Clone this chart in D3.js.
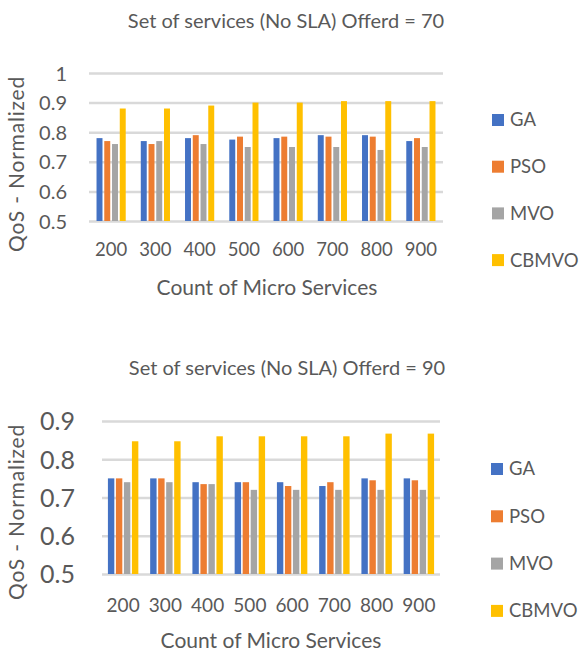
<!DOCTYPE html>
<html>
<head>
<meta charset="utf-8">
<script src="https://cdn.jsdelivr.net/npm/d3@7"></script>
<style>
  html, body { margin: 0; padding: 0; background: #fff; }
  svg { display: block; font-family: Lato, "Open Sans", sans-serif; }
</style>
</head>
<body>
<svg id="chart" width="582" height="653"></svg>
<script>
// ---------- DATA ----------
const categories = ["200", "300", "400", "500", "600", "700", "800", "900"];
const seriesNames = ["GA", "PSO", "MVO", "CBMVO"];
const seriesColors = ["#4472C4", "#ED7D31", "#A5A5A5", "#FFC000"];

// Chart 1: Offerd = 70
const title70 = "Set of services (No SLA) Offerd = 70";
const ga70    = [0.78, 0.77, 0.78, 0.775, 0.78, 0.79, 0.79, 0.77];
const pso70   = [0.77, 0.76, 0.79, 0.785, 0.785, 0.785, 0.785, 0.78];
const mvo70   = [0.76, 0.77, 0.76, 0.75, 0.75, 0.75, 0.74, 0.75];
const cbmvo70 = [0.88, 0.88, 0.89, 0.90, 0.90, 0.905, 0.905, 0.905];
const yTicks70 = [0.5, 0.6, 0.7, 0.8, 0.9, 1];

// Chart 2: Offerd = 90
const title90 = "Set of services (No SLA) Offerd = 90";
const ga90    = [0.75, 0.75, 0.74, 0.74, 0.74, 0.73, 0.75, 0.75];
const pso90   = [0.75, 0.75, 0.735, 0.74, 0.73, 0.74, 0.745, 0.745];
const mvo90   = [0.74, 0.74, 0.735, 0.72, 0.72, 0.72, 0.72, 0.72];
const cbmvo90 = [0.847, 0.847, 0.86, 0.86, 0.86, 0.86, 0.867, 0.867];
const yTicks90 = [0.5, 0.6, 0.7, 0.8, 0.9];

const xTitle = "Count of Micro Services";
const yTitle = "QoS - Normalized";

// ---------- DRAW ----------
const svg = d3.select("#chart");
const textColor = "#595959";

function drawChart(cfg) {
  const g = svg.append("g");
  const series = cfg.values;

  const x0 = d3.scaleBand().domain(categories)
    .range([cfg.left, cfg.right]).paddingInner(cfg.groupPad).paddingOuter(cfg.groupPad / 2);
  const x1 = d3.scaleBand().domain(seriesNames)
    .range([0, x0.bandwidth()]).paddingInner(cfg.barPad);
  const y = d3.scaleLinear().domain([d3.min(cfg.yTicks), d3.max(cfg.yTicks)])
    .range([cfg.bottom, cfg.top]);

  // gridlines via axis
  const grid = g.append("g")
    .attr("transform", `translate(${cfg.left},0)`)
    .call(d3.axisRight(y).tickValues(cfg.yTicks).tickSize(cfg.right - cfg.left).tickFormat(""));
  grid.select(".domain").remove();
  grid.selectAll("line").attr("stroke", "#D9D9D9").attr("stroke-width", 2.5);

  // y tick labels
  const yAx = g.append("g")
    .attr("transform", `translate(${cfg.yLabelX},0)`)
    .call(d3.axisLeft(y).tickValues(cfg.yTicks).tickSize(0).tickPadding(0).tickFormat(d => String(d)));
  yAx.select(".domain").remove();
  yAx.selectAll("text").attr("fill", textColor).style("font-size", cfg.yTickSize + "px")
    .style("font-family", "Lato, sans-serif").attr("dy", "0.35em");

  // bars
  const groups = g.append("g").selectAll("g")
    .data(categories).join("g")
    .attr("transform", d => `translate(${x0(d)},0)`);
  groups.selectAll("rect")
    .data((c, i) => seriesNames.map((s, k) => ({ s, k, v: series[k][i] })))
    .join("rect")
    .attr("x", d => x1(d.s))
    .attr("width", x1.bandwidth())
    .attr("y", d => y(d.v))
    .attr("height", d => y(d3.min(cfg.yTicks)) - y(d.v))
    .attr("fill", d => seriesColors[d.k]);

  // x tick labels
  const xAx = g.append("g")
    .attr("transform", `translate(0,${cfg.xLabelY})`)
    .call(d3.axisBottom(x0).tickSize(0).tickPadding(0));
  xAx.select(".domain").remove();
  xAx.selectAll("text").attr("fill", textColor).style("font-size", cfg.xTickSize + "px")
    .style("font-family", "Lato, sans-serif").attr("dy", "0.35em").attr("y", 0);

  // title
  g.append("text").attr("x", cfg.titleX).attr("y", cfg.titleY).attr("dy", "0.35em")
    .attr("text-anchor", "middle").attr("fill", textColor)
    .style("font-size", cfg.titleSize + "px").text(cfg.title);

  // x title
  g.append("text").attr("x", cfg.xTitleX).attr("y", cfg.xTitleY).attr("dy", "0.35em")
    .attr("text-anchor", "middle").attr("fill", textColor)
    .style("font-size", cfg.xTitleSize + "px").text(xTitle);

  // y title
  g.append("text")
    .attr("transform", `translate(${cfg.yTitleX},${cfg.yTitleY}) rotate(-90)`)
    .attr("dy", "0.35em").attr("text-anchor", "middle").attr("fill", textColor)
    .style("font-size", cfg.yTitleSize + "px").style("letter-spacing", "0.8px").text(yTitle);

  // legend
  const leg = g.append("g").selectAll("g").data(seriesNames).join("g")
    .attr("transform", (d, i) => `translate(${cfg.legendX},${cfg.legendY + i * cfg.legendStep})`);
  leg.append("rect").attr("x", 0).attr("y", -6).attr("width", 12).attr("height", 12)
    .attr("fill", (d, i) => seriesColors[i]);
  leg.append("text").attr("x", 18).attr("y", 0).attr("dy", "0.35em").attr("fill", textColor)
    .style("font-size", cfg.legendSize + "px").text(d => d);
}

drawChart({
  title: title70, values: [ga70, pso70, mvo70, cbmvo70], yTicks: yTicks70,
  left: 89, right: 443, top: 73, bottom: 221,
  groupPad: 0.34, barPad: 0.23,
  yLabelX: 67, yTickSize: 20,
  xLabelY: 250, xTickSize: 18.5,
  titleX: 286, titleY: 21, titleSize: 20,
  xTitleX: 267, xTitleY: 288, xTitleSize: 21,
  yTitleX: 17, yTitleY: 164, yTitleSize: 21,
  legendX: 492, legendY: 120, legendStep: 46.7, legendSize: 18.5
});

drawChart({
  title: title90, values: [ga90, pso90, mvo90, cbmvo90], yTicks: yTicks90,
  left: 102, right: 440, top: 421, bottom: 574,
  groupPad: 0.28, barPad: 0.2,
  yLabelX: 75, yTickSize: 25,
  xLabelY: 605, xTickSize: 19,
  titleX: 287, titleY: 368, titleSize: 20,
  xTitleX: 271, xTitleY: 641, xTitleSize: 21,
  yTitleX: 17, yTitleY: 512, yTitleSize: 21,
  legendX: 491, legendY: 469, legendStep: 47.3, legendSize: 18.5
});
</script>
</body>
</html>
